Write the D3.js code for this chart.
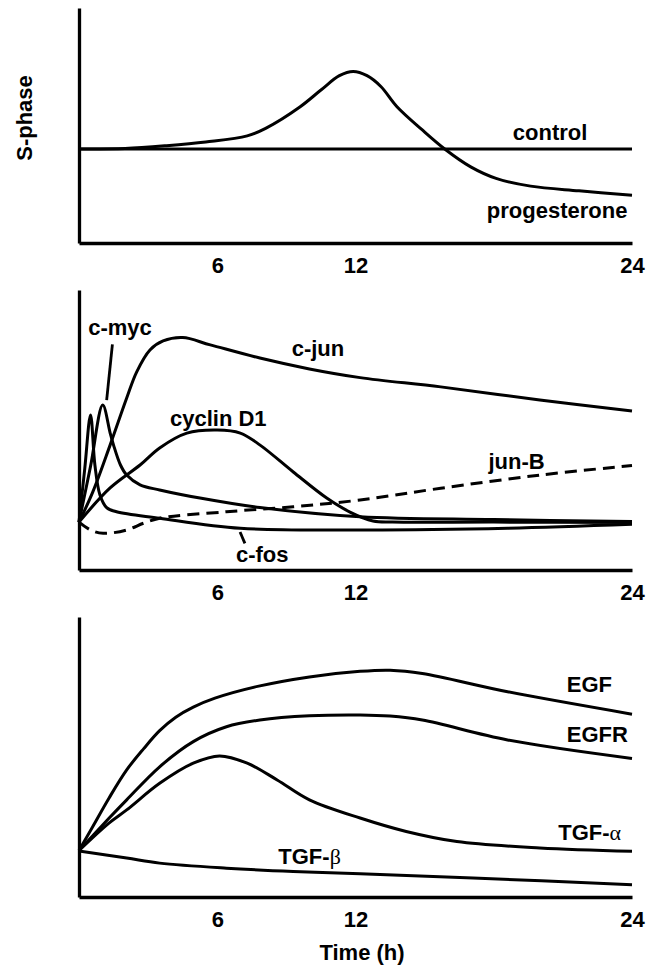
<!DOCTYPE html>
<html>
<head>
<meta charset="utf-8">
<title>Time course</title>
<script src="https://cdn.jsdelivr.net/npm/d3@7/dist/d3.min.js"></script>
<style>
  html, body { margin: 0; padding: 0; background: #fff; }
  svg { display: block; font-family: "Liberation Sans", Arial, Helvetica, sans-serif; font-weight: bold; }
</style>
</head>
<body>
<div id="chart"></div>
<script>
  'use strict';

  // x tick labels (hours)
  var timeTicks = [6, 12, 24];

  // panel 1 : S-phase, [hour, value]
  var control = [[0, 40], [24, 40]];
  var progesterone = [[0, 40], [2, 40.2], [3.8, 41.4], [5.5, 43], [7.3, 45.6], [8.1, 48.8], [9.6, 58],
    [10.5, 65.1], [11.3, 71.2], [11.9, 73], [12.5, 71.2], [13.1, 66.6], [13.8, 58], [14.9, 48.1], [15.9, 39.8],
    [17, 32.4], [18.1, 27.5], [19.6, 24.2], [21.7, 22.2], [24, 20.3]];

  // panel 2 : early genes
  var cJun = [[0, 17.1], [0.6, 27.9], [1.35, 44.6], [2.07, 61.4], [2.5, 70.7], [3.08, 78.6], [3.65, 81.8],
    [4.5, 83], [5.7, 80.4], [7.85, 75.7], [10, 71.8], [12.2, 68.7], [15.7, 65.4], [20, 60.7], [24, 56.8]];
  var cMyc = [[0, 17.1], [0.5, 37], [1.03, 58.9], [1.35, 49], [1.5, 44.6], [1.8, 37.5], [2.07, 33.9],
    [2.65, 30.4], [3.5, 28.6], [5.25, 25.7], [7.85, 22.3], [12.2, 19], [18, 18], [24, 17.3]];
  var cFos = [[0, 17.1], [0.25, 36.2], [0.5, 55.4], [0.69, 37.5], [0.91, 26.8], [1.2, 22.3], [1.63, 20.8],
    [3.5, 18.5], [7, 14.9], [12.2, 14.3], [18.6, 14.9], [24, 16.3]];
  var cyclinD1 = [[0, 17.1], [1.35, 29.3], [2.65, 37.5], [3.5, 43.6], [4.68, 48.9], [6, 50], [7, 48.9],
    [7.86, 44.6], [9.3, 35], [10.75, 25.7], [11.76, 20.7], [12.76, 17.5], [13.6, 17.1], [18, 17.1], [24, 17]];
  var junB = [[0, 17.1], [0.5, 14.3], [1.05, 13.1], [2.07, 14.3], [2.8, 16.7], [3.5, 18.5], [6.4, 20.8],
    [9.3, 22.6], [12.2, 25], [15.7, 29.2], [20, 33.9], [24, 37.3]];

  // panel 3 : growth factors
  var egf = [[0, 16.6], [0.6, 25.2], [1.3, 35.3], [2.07, 45.4], [2.8, 52.9], [3.5, 59.4], [4.2, 64.2],
    [4.96, 67.8], [5.9, 71], [7.8, 75.3], [10, 78.6], [12.2, 80.6], [13.5, 81], [14.9, 79.8], [18.6, 73.3], [24, 65.3]];
  var egfr = [[0, 16.6], [1.3, 28.1], [2.07, 34.7], [3.5, 46.5], [4.96, 55.5], [6.4, 60.8], [7.85, 63.2],
    [10, 64.7], [12.2, 65], [13.5, 64.6], [14.9, 63.2], [18.6, 56.1], [24, 49.5]];
  var tgfAlpha = [[0, 16.6], [1.3, 26.4], [2.07, 31.1], [3.5, 40.6], [4.96, 47.8], [6.1, 50.4], [7.3, 47.8],
    [8.6, 41.8], [10, 34.7], [12.2, 28.2], [14.2, 23.4], [16.4, 19.8], [20, 17.5], [24, 16.3]];
  var tgfBeta = [[0, 16.4], [2.07, 13.9], [3.5, 12.1], [6.4, 10.3], [9.3, 9.1], [12.2, 8.3], [17.1, 6.8], [24, 4.4]];

  var width = 661;
  var height = 967;

  var svg = d3.select('#chart').append('svg')
    .attr('width', width)
    .attr('height', height);

  var x = d3.scaleLinear().domain([0, 24]).range([79, 632]);

  /**
   * Draw one panel: axes, curves and labels
   */
  var drawPanel = function (p) {
    var y = d3.scaleLinear().domain([0, 100]).range([p.axis, p.top]);
    var g = svg.append('g');

    g.append('g')
      .attr('transform', 'translate(0,' + p.axis + ')')
      .call(d3.axisBottom(x).tickValues(timeTicks).tickSize(0).tickPadding(14).tickSizeOuter(0))
      .call(function (a) {
        a.select('.domain').attr('stroke-width', 3.3);
        a.selectAll('text').attr('font-size', 22).attr('font-family', null).attr('font-weight', 'bold').attr('fill', '#000');
      });

    g.append('g')
      .attr('transform', 'translate(' + x(0) + ',0)')
      .call(d3.axisLeft(y).tickValues([]).tickSizeOuter(0))
      .call(function (a) { a.select('.domain').attr('stroke-width', 3.3); });

    var line = d3.line()
      .x(function (d) { return x(d[0]); })
      .y(function (d) { return y(d[1]); })
      .curve(d3.curveCatmullRom.alpha(0.5));

    g.selectAll('path.curve')
      .data(p.series)
      .enter()
      .append('path')
        .attr('class', 'curve')
        .attr('d', function (d) { return line(d.values); })
        .attr('fill', 'none')
        .attr('stroke', '#000')
        .attr('stroke-width', 3)
        .attr('stroke-dasharray', function (d) { return d.dash || null; });

    (p.leaders || []).forEach(function (l) {
      g.append('line')
        .attr('x1', x(l[0])).attr('y1', y(l[1]))
        .attr('x2', x(l[2])).attr('y2', y(l[3]))
        .attr('stroke', '#000')
        .attr('stroke-width', 2.8);
    });

    p.labels.forEach(function (l) {
      var t = g.append('text')
        .attr('x', x(l.t))
        .attr('y', y(l.v))
        .attr('font-size', 22);
      t.append('tspan').text(l.text);
      if (l.greek) {
        t.append('tspan')
          .attr('font-family', '"Liberation Serif", "DejaVu Serif", serif')
          .attr('font-weight', 'normal')
          .text(l.greek);
      }
    });
  };

  drawPanel({
    top: 8, axis: 243,
    series: [{ values: control }, { values: progesterone }],
    labels: [
      { text: 'control', t: 18.83, v: 43.8 },
      { text: 'progesterone', t: 17.7, v: 10.8 }
    ]
  });

  drawPanel({
    top: 290, axis: 570,
    series: [{ values: cJun }, { values: cMyc }, { values: cFos }, { values: cyclinD1 }, { values: junB, dash: '12,7' }],
    leaders: [[1.45, 80.6, 1.2, 60.7], [6.99, 13.6, 7.2, 9.5]],
    labels: [
      { text: 'c-myc', t: 0.4, v: 84.1 },
      { text: 'c-jun', t: 9.23, v: 76.4 },
      { text: 'cyclin D1', t: 3.95, v: 51.4 },
      { text: 'jun-B', t: 17.77, v: 36.1 },
      { text: 'c-fos', t: 6.81, v: 3.0 }
    ]
  });

  drawPanel({
    top: 617, axis: 897,
    series: [{ values: egf }, { values: egfr }, { values: tgfAlpha }, { values: tgfBeta }],
    labels: [
      { text: 'EGF', t: 21.17, v: 73.3 },
      { text: 'EGFR', t: 21.17, v: 55.5 },
      { text: 'TGF-', greek: '\u03B1', t: 20.8, v: 20.4 },
      { text: 'TGF-', greek: '\u03B2', t: 8.65, v: 11.9 }
    ]
  });

  // axis titles
  svg.append('text')
    .attr('transform', 'translate(32,118) rotate(-90)')
    .attr('text-anchor', 'middle')
    .attr('font-size', 22)
    .text('S-phase');

  svg.append('text')
    .attr('x', 362)
    .attr('y', 960)
    .attr('text-anchor', 'middle')
    .attr('font-size', 22)
    .text('Time (h)');
</script>
</body>
</html>
